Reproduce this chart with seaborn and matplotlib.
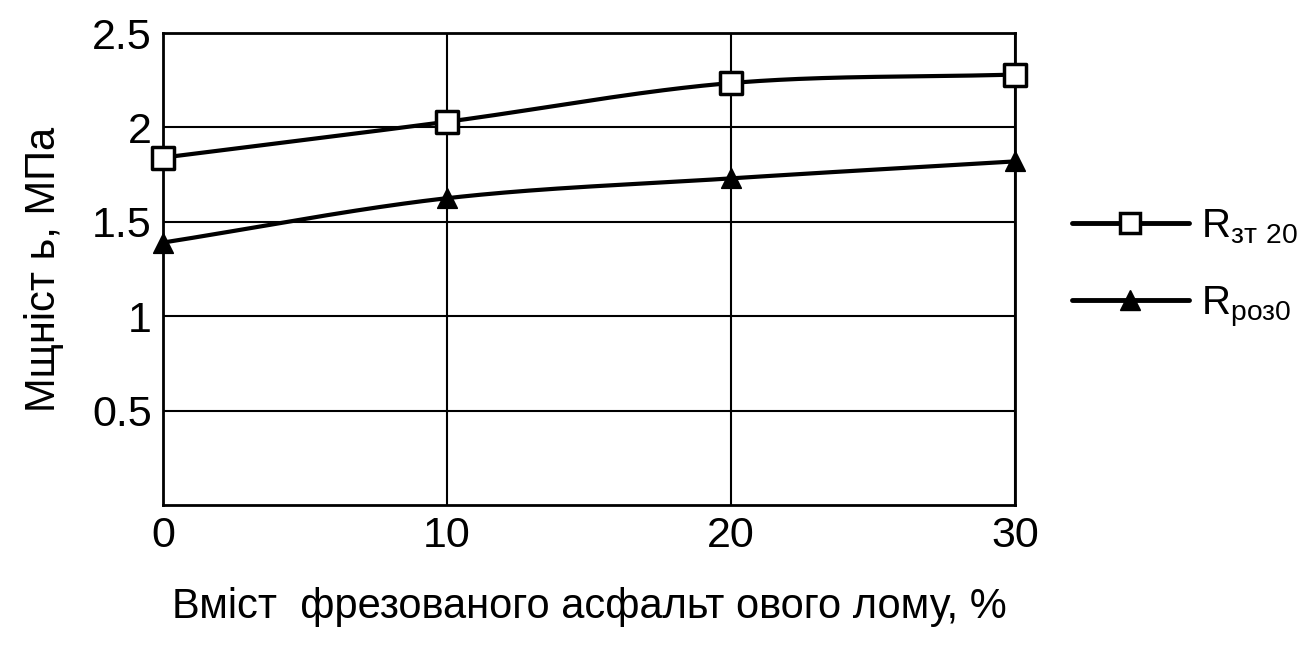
import numpy as np
import pandas as pd
import matplotlib
matplotlib.use("Agg")
import matplotlib.pyplot as plt
import seaborn as sns
from matplotlib.lines import Line2D

# Дані
vmist = [0, 10, 20, 30]
r_zt20 = [1.84, 2.03, 2.235, 2.28]
r_roz0 = [1.39, 1.625, 1.73, 1.82]
y_ticks = [0.5, 1, 1.5, 2, 2.5]
y_tick_labels = ["0.5", "1", "1.5", "2", "2.5"]

sns.set_style("white")
plt.rcParams['font.family'] = ['Liberation Sans Narrow', 'Liberation Sans', 'DejaVu Sans']
plt.rcParams['text.color'] = 'black'
plt.rcParams['axes.labelcolor'] = 'black'
plt.rcParams['xtick.color'] = 'black'
plt.rcParams['ytick.color'] = 'black'

df = pd.DataFrame({"x": vmist * 2,
                   "y": r_zt20 + r_roz0,
                   "series": ["zt"] * 4 + ["roz"] * 4})


def smooth(xs, ys, n=60):
    # гладка крива (Catmull-Rom) лише для відображення лінії
    xs = np.asarray(xs, float)
    ys = np.asarray(ys, float)
    px = np.concatenate([[2 * xs[0] - xs[1]], xs, [2 * xs[-1] - xs[-2]]])
    py = np.concatenate([[2 * ys[0] - ys[1]], ys, [2 * ys[-1] - ys[-2]]])
    out_x, out_y = [], []
    for i in range(1, len(px) - 2):
        t = np.linspace(0, 1, n)
        for arr, p in ((out_x, px), (out_y, py)):
            p0, p1, p2, p3 = p[i - 1], p[i], p[i + 1], p[i + 2]
            arr.extend(0.5 * (2 * p1 + (-p0 + p2) * t
                              + (2 * p0 - 5 * p1 + 4 * p2 - p3) * t ** 2
                              + (-p0 + 3 * p1 - 3 * p2 + p3) * t ** 3))
    return out_x, out_y


fig = plt.figure(figsize=(13.11, 6.46), dpi=100)
ax = fig.add_axes([0.1243, 0.2183, 0.65, 0.7306])

for key, ys in (("zt", r_zt20), ("roz", r_roz0)):
    sx, sy = smooth(vmist, ys)
    sns.lineplot(x=sx, y=sy, ax=ax, color="black", lw=3, sort=False)

sns.scatterplot(data=df[df.series == "zt"], x="x", y="y", ax=ax, marker="s",
                s=260, facecolor="white", edgecolor="black", linewidth=2.5,
                zorder=5, clip_on=False)
sns.scatterplot(data=df[df.series == "roz"], x="x", y="y", ax=ax, marker="^",
                s=200, color="black", edgecolor="black", zorder=5, clip_on=False)

ax.set_xlim(0, 30)
ax.set_ylim(0, 2.5)
ax.set_xticks(vmist)
ax.set_yticks(y_ticks)
ax.set_yticklabels(y_tick_labels)
ax.tick_params(labelsize=31, length=0, pad=8)
ax.grid(True, color="black", lw=1.5)
for s in ax.spines.values():
    s.set_color("black")
    s.set_linewidth(2)
ax.set_xlabel("Вміст  фрезованого асфальт ового лому, %", fontsize=30, labelpad=22)
ax.set_ylabel("Мщніст ь, МПа", fontsize=30, labelpad=20)

handles = [Line2D([], [], color="black", lw=3.5, marker="s", markersize=15,
                  markerfacecolor="white", markeredgewidth=2.5),
           Line2D([], [], color="black", lw=3.5, marker="^", markersize=14)]
fig.legend(handles, [r"R$_{\mathregular{зт\ 20}}$", r"R$_{\mathregular{роз0}}$"],
           loc="center left", bbox_to_anchor=(0.79, 0.585), frameon=False,
           fontsize=29, handlelength=2.9, labelspacing=0.95, handletextpad=0.3)

fig.savefig("out.png", dpi=100, facecolor="white")
